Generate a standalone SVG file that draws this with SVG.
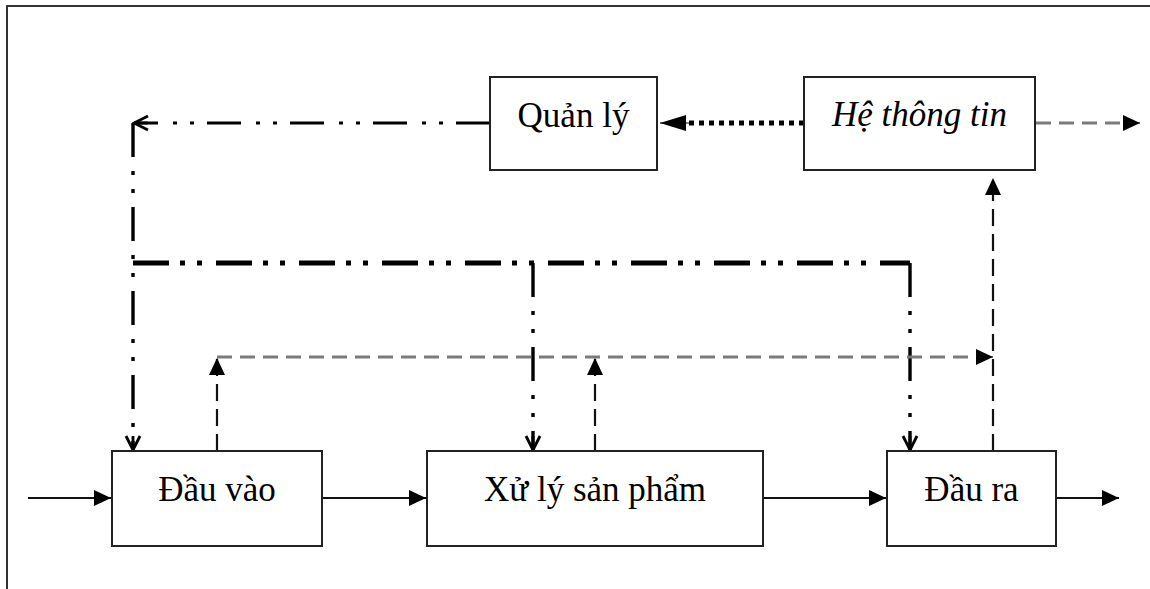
<svg xmlns="http://www.w3.org/2000/svg" width="1150" height="589" viewBox="0 0 1150 589">
  <style>
    .box { fill: #ffffff; stroke: #222222; stroke-width: 2; }
    .lbl { font-family: "Liberation Serif", "Times New Roman", serif; font-size: 35px; fill: #000000; text-anchor: middle; }
    .it { font-style: italic; }
    .solid { fill: none; stroke: #111111; stroke-width: 2.2; }
    .dd { fill: none; stroke: #000000; stroke-width: 3.4; stroke-dasharray: 34 14 4 14 4 14; }
    .ddh { fill: none; stroke: #000000; stroke-width: 3; stroke-dasharray: 34 13 4 13 4 15; }
    .ddthick { fill: none; stroke: #000000; stroke-width: 5; stroke-dasharray: 36 11 5 12 5 14; }
    .dotted { fill: none; stroke: #000000; stroke-width: 5; stroke-dasharray: 5 5; }
    .gray { fill: none; stroke: #7a7a7a; stroke-width: 3; stroke-dasharray: 15 8; }
    .dash { fill: none; stroke: #111111; stroke-width: 2.2; stroke-dasharray: 17 8; }
    .frame { fill: none; stroke: #333333; stroke-width: 2; }
  </style>
  <defs>
    <marker id="tri" markerUnits="userSpaceOnUse" viewBox="0 0 17 16" refX="17" refY="8" markerWidth="17" markerHeight="16" orient="auto">
      <path d="M0,0 L17,8 L0,16 z" fill="#000000"/>
    </marker>
    <marker id="trib" markerUnits="userSpaceOnUse" viewBox="0 0 26 16" refX="26" refY="8" markerWidth="26" markerHeight="16" orient="auto">
      <path d="M0,0 L26,8 L0,16 z" fill="#000000"/>
    </marker>
    <marker id="vee" markerUnits="userSpaceOnUse" viewBox="-2 -2 18 18" refX="14" refY="7" markerWidth="18" markerHeight="18" orient="auto">
      <path d="M0,0 L14,7 L0,14" fill="none" stroke="#000000" stroke-width="2.8"/>
      <path d="M0,7 L14,7" fill="none" stroke="#000000" stroke-width="2.8"/>
    </marker>
  </defs>

  <g id="frame">
    <path class="frame" d="M7,589 L7,6 L1150,6"/>
  </g>

  <g id="connectors">
    <path class="ddh" d="M490,123 L134,123" marker-end="url(#vee)"/>
    <path class="dd" d="M133,123 L133,450" marker-end="url(#vee)"/>
    <path class="ddthick" d="M133,263 L910,263"/>
    <path class="dd" d="M533,263 L533,450" marker-end="url(#vee)"/>
    <path class="dd" d="M910,263 L910,450" marker-end="url(#vee)"/>
    <path class="dotted" d="M804,123 L682,123"/>
    <path d="M690,123 L660,123" stroke="#000" stroke-width="1" marker-end="url(#trib)"/>
    <path class="gray" d="M1036,123 L1125,123"/>
    <path d="M1124,123 L1140,123" stroke="#000" stroke-width="1" marker-end="url(#tri)"/>
    <path class="dash" d="M993,451 L993,178" marker-end="url(#tri)"/>
    <path class="gray" d="M217,357 L978,357"/>
    <path d="M977,357 L993,357" stroke="#000" stroke-width="1" marker-end="url(#tri)"/>
    <path class="dash" d="M217,451 L217,358" marker-end="url(#tri)"/>
    <path class="dash" d="M595,451 L595,358" marker-end="url(#tri)"/>
    <path class="solid" d="M28,498 L111,498" marker-end="url(#tri)"/>
    <path class="solid" d="M322,498 L426,498" marker-end="url(#tri)"/>
    <path class="solid" d="M763,498 L886,498" marker-end="url(#tri)"/>
    <path class="solid" d="M1056,498 L1119,498" marker-end="url(#tri)"/>
  </g>

  <g id="quan-ly">
    <rect class="box" x="490" y="77" width="167" height="93"/>
    <text class="lbl" x="573.5" y="127">Quản lý</text>
  </g>
  <g id="he-thong-tin">
    <rect class="box" x="804" y="77" width="231" height="93"/>
    <text class="lbl it" x="919.5" y="126">Hệ thông tin</text>
  </g>
  <g id="dau-vao">
    <rect class="box" x="112" y="451" width="210" height="95"/>
    <text class="lbl" x="217" y="501">Đầu vào</text>
  </g>
  <g id="xu-ly-san-pham">
    <rect class="box" x="427" y="451" width="336" height="95"/>
    <text class="lbl" x="595" y="501">Xử lý sản phẩm</text>
  </g>
  <g id="dau-ra">
    <rect class="box" x="887" y="451" width="169" height="95"/>
    <text class="lbl" x="971.5" y="501">Đầu ra</text>
  </g>
</svg>
